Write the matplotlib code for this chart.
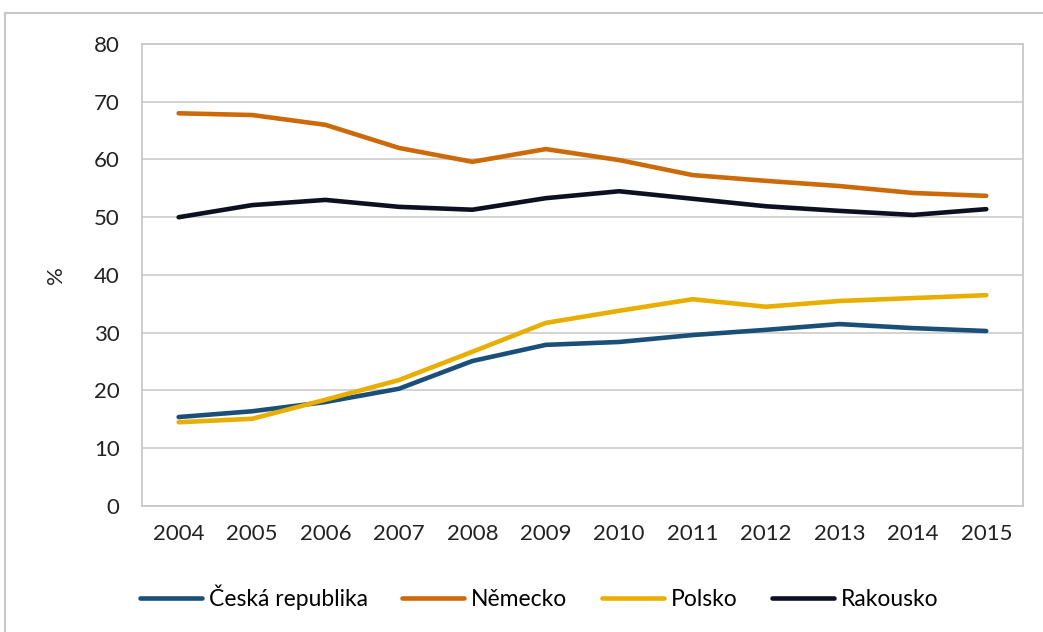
import matplotlib
matplotlib.use("Agg")
import matplotlib.pyplot as plt
from matplotlib.lines import Line2D

years = list(range(2004, 2016))
cesko = [15.4, 16.4, 18.0, 20.3, 25.1, 27.9, 28.4, 29.6, 30.5, 31.5, 30.8, 30.3]
nemecko = [68.0, 67.7, 66.0, 62.0, 59.6, 61.8, 59.9, 57.3, 56.3, 55.4, 54.2, 53.7]
polsko = [14.5, 15.1, 18.4, 21.8, 26.7, 31.7, 33.8, 35.8, 34.5, 35.5, 36.0, 36.5]
rakousko = [50.0, 52.1, 53.0, 51.8, 51.3, 53.3, 54.5, 53.2, 51.9, 51.1, 50.4, 51.4]

series = [
    ("Česká republika", cesko, "#1a4f7a"),
    ("Německo", nemecko, "#cc6a0a"),
    ("Polsko", polsko, "#e8ae00"),
    ("Rakousko", rakousko, "#0d1020"),
]

plt.rcParams['font.family'] = ['Lato', 'DejaVu Sans']

fig = plt.figure(figsize=(10.43, 6.32), dpi=100)
ax = fig.add_axes([0.1361, 0.1994, 0.8447, 0.731])

for name, vals, col in series:
    ax.plot(years, vals, color=col, lw=3.3, label=name, solid_capstyle='round')

ax.set_xlim(2003.5, 2015.5)
ax.set_ylim(0, 80)
ax.set_xticks(years)
ax.set_yticks(range(0, 81, 10))
ax.grid(axis='y', color='#d0d0d0', lw=1.3)
ax.set_axisbelow(True)
for s in ax.spines.values():
    s.set_color('#c8c8c8')
    s.set_linewidth(1.3)
ax.tick_params(length=0, labelsize=16, colors='#222222')
ax.tick_params(axis='y', pad=16)
ax.tick_params(axis='x', pad=13)
ax.set_ylabel('%', fontsize=16, color='#222222')
ax.yaxis.set_label_coords(-0.086, 0.5)

fig.legend(loc='center', bbox_to_anchor=(0.517, 0.055), ncol=4, frameon=False,
           fontsize=16.5, handlelength=2.7, handletextpad=0.3, columnspacing=1.5)

# outer chart border (top and left)
fig.add_artist(Line2D([5 / 1043, 1.0], [1 - 13 / 632, 1 - 13 / 632], color='#c8c8c8', lw=1.5))
fig.add_artist(Line2D([5 / 1043, 5 / 1043], [0.0, 1 - 13 / 632], color='#c8c8c8', lw=1.5))

fig.savefig('out.png', dpi=100)
